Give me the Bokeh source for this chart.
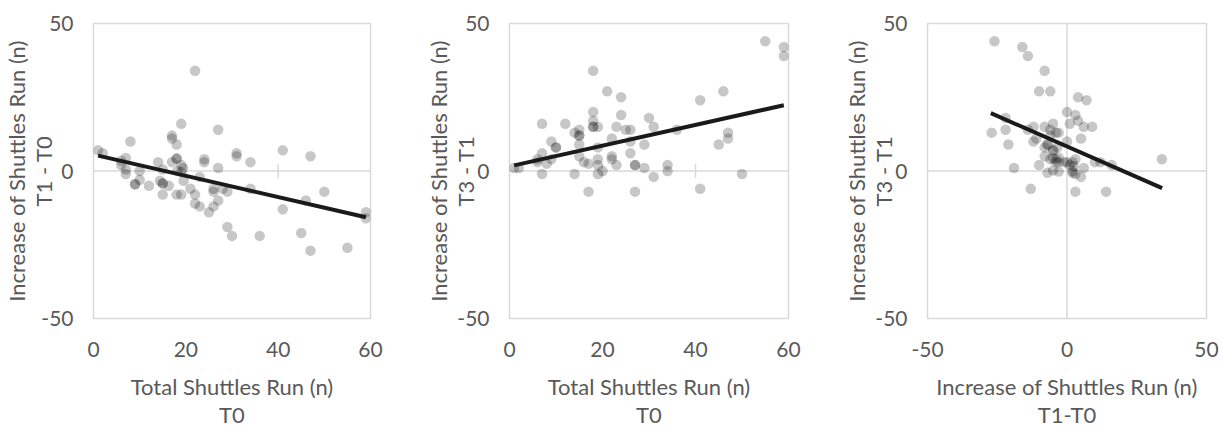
from bokeh.plotting import figure
from bokeh.layouts import row
from bokeh.models import Range1d, FixedTicker, Span
from bokeh.embed import file_html
from bokeh.resources import INLINE

# ---------------- data ----------------
# Panel 1: Total shuttles run at T0 vs increase T1 - T0
p1_t0 = [1, 2, 8, 6, 7, 6, 7, 7, 9, 9, 10, 10, 12, 14, 15, 14.4, 15, 15, 15, 16.3,
         17, 17, 18, 19, 22, 18, 18, 17, 19, 19.4, 18.2, 19, 19.5, 18, 19, 21, 22, 22, 23, 23,
         24, 24, 25, 26, 26, 26, 27, 27, 27, 28, 29, 29, 30, 31, 31, 34, 34, 36, 41, 41,
         45, 46, 47, 47, 50, 55, 59, 59]
p1_d10 = [7, 6, 10, 3.5, 4.4, 2, 0.5, -1, -4.5, -4.5, 0, -3, -5, 3, 0.5, -3.3, -4.2, -4.2, -8, -5,
          12, 11, 9, 16, 34, 4.2, 4.2, 3, 2, 1, 0, -0.3, -3.3, -8, -8, -6, -8, -11, -12, -2,
          4, 3, -14, -6, -7, -12, -10, 14, 1, -6, -7, -19, -22, 6, 5, 3, -6, -22, 7, -13,
          -21, -10, 5, -27, -7, -26, -14, -16]
p1_trend_x = [1, 59]
p1_trend_y = [5.2, -15.7]

# Panel 2: Total shuttles run at T0 vs increase T3 - T1
p2_t0 = [1, 2, 6, 6, 7, 7, 7, 8, 9, 9, 10, 10, 12, 14, 14, 15, 15, 15, 15, 15,
         16, 17, 17, 18, 18, 18, 18, 18, 19, 19, 19, 19, 19, 20, 21, 22, 22, 22, 23, 23,
         24, 24, 25, 26, 26, 26, 27, 27, 27, 29, 29, 30, 31, 31, 34, 34, 36, 41, 41, 45,
         46, 47, 47, 50, 55, 59, 59]
p2_d31 = [1, 1, 4, 3, 6, 16, -1, 2.5, 4, 10, 8, 8, 16, -1, 13, 14, 12, 12, 9, 5,
          3, -7, 2.5, 34, 20, 17, 15, 15, 15, 8, 4, 2, -1, 0, 27, 11, 5, 4, 2, 15,
          25, 19, 14, 14, 10, 6, 2, 2, -7, 9, 1, 18, 15, -2, 2, 0, 14, 24, -6, 9,
          27, 13, 11, -1, 44, 42, 39]
p2_trend_x = [1, 59]
p2_trend_y = [1.9, 22.3]

# Panel 3: increase T1 - T0 vs increase T3 - T1
p3_d10 = [-26, -16, -14, -8, -10, -6, 4, 7, 0, 3, 4, 6, 9, 1, -22, -22, -27, -21, -19, -12,
          -14, -8, -5, -6, -4, -3, -12, -11, -8, -7, -5, -3.5, 0, 5, -8, -6, -5, -3, -4, -10,
          -7, -5, -3, -1, 1, 2, 2.4, 3, 2, 3, 5, 6, 10, 12, 16, 34, -13, 3, 14, -5,
          -4, -3, 0, 2, -6, -7]
p3_d31 = [44, 42, 39, 34, 27, 27, 25, 24, 20, 19, 17, 15, 15, 16, 18, 14, 13, 9, 1, 15,
          14, 15, 16, 14, 13, 13, 10, 11, 8, 9, 7, 8, 10, 11, 5, 4, 4.4, 4.6, 3, 2,
          -0.6, 0.2, -0.2, 3, 2, 3, 1.7, 4, -0.6, -1, -2, 1, 3, 3, 2, 4, -6, -7, -7, 7,
          4, 3, 3, 0, 12, 9]
p3_trend_x = [-27.3, 34.1]
p3_trend_y = [19.6, -5.8]

t0_ticks = [0, 20, 40, 60]
diff_ticks = [-50, 0, 50]
y_ticks = [-50, 0, 50]

x_title_t0 = "Total Shuttles Run (n)\nT0"
x_title_d10 = "Increase of Shuttles Run (n)\nT1-T0"
y_title_d10 = "Increase of Shuttles Run (n)\nT1 - T0"
y_title_d31 = "Increase of Shuttles Run (n)\nT3 - T1"

# ---------------- styling ----------------
FONT = "Lato"
TXT = "#595959"
LINE = "#d9d9d9"
TICK_SIZE = "21px"
TITLE_SIZE = "22px"


def make_panel(xs, ys, tx, ty, x_rng, x_ticks, x_title, y_title,
               left, right, top, bottom, fw, fh, ylab_standoff, ylab_lh,
               vline=False, cross=True):
    p = figure(width=left + fw + right, height=top + fh + bottom,
               x_range=Range1d(*x_rng), y_range=Range1d(-50, 50),
               output_backend="svg", toolbar_location=None,
               min_border_left=left, min_border_right=right,
               min_border_top=top, min_border_bottom=bottom)
    p.background_fill_color = "white"
    p.border_fill_color = "white"
    p.outline_line_color = LINE
    p.outline_line_width = 1.5
    p.xgrid.visible = False
    p.ygrid.visible = False

    for ax in (p.xaxis[0], p.yaxis[0]):
        ax.axis_line_color = None
        ax.major_tick_line_color = None
        ax.minor_tick_line_color = None
        ax.major_label_text_font = FONT
        ax.major_label_text_font_size = TICK_SIZE
        ax.major_label_text_color = TXT
        ax.axis_label_text_font = FONT
        ax.axis_label_text_font_size = TITLE_SIZE
        ax.axis_label_text_color = TXT
        ax.axis_label_text_font_style = "normal"
    p.xaxis.ticker = FixedTicker(ticks=x_ticks)
    p.yaxis.ticker = FixedTicker(ticks=y_ticks)
    p.xaxis.major_label_overrides = {t: str(t) for t in x_ticks}
    p.yaxis.major_label_overrides = {t: str(t) for t in y_ticks}
    p.xaxis.major_label_standoff = 17
    p.yaxis.major_label_standoff = 14

    p.xaxis.axis_label = x_title
    p.xaxis.axis_label_standoff = 13
    p.xaxis.axis_label_text_line_height = 1.06
    p.yaxis.axis_label = y_title
    p.yaxis.axis_label_standoff = ylab_standoff
    p.yaxis.axis_label_text_line_height = ylab_lh

    p.add_layout(Span(location=0, dimension="width", line_color=LINE,
                      line_width=1.5, level="underlay"))
    if vline:
        p.add_layout(Span(location=0, dimension="height", line_color=LINE,
                          line_width=1.5, level="underlay"))
    if cross:
        half = 7 * 100.0 / fh
        inner = [t for t in x_ticks if x_rng[0] < t < x_rng[1]]
        p.segment(x0=inner, x1=inner, y0=[-half] * len(inner), y1=[half] * len(inner),
                  line_color=LINE, line_width=1.5)

    p.scatter(xs, ys, size=10.5, fill_color="black", fill_alpha=0.22, line_color=None)
    p.line(tx, ty, line_color="#1a1a1a", line_width=4)
    return p


p1 = make_panel(p1_t0, p1_d10, p1_trend_x, p1_trend_y, (0, 60), t0_ticks,
                x_title_t0, y_title_d10,
                left=92, right=40, top=18, bottom=109, fw=278, fh=304,
                ylab_standoff=-19, ylab_lh=1.0)
p2 = make_panel(p2_t0, p2_d31, p2_trend_x, p2_trend_y, (0, 60), t0_ticks,
                x_title_t0, y_title_d31,
                left=99, right=32, top=23, bottom=106, fw=279, fh=302,
                ylab_standoff=-25, ylab_lh=1.0)
p3 = make_panel(p3_d10, p3_d31, p3_trend_x, p3_trend_y, (-50, 50), diff_ticks,
                x_title_d10, y_title_d31,
                left=107, right=17, top=22, bottom=106, fw=279, fh=303,
                ylab_standoff=-25, ylab_lh=1.0, vline=True, cross=False)

layout = row(p1, p2, p3, spacing=0)
open("out.html", "w").write(file_html(layout, INLINE))
